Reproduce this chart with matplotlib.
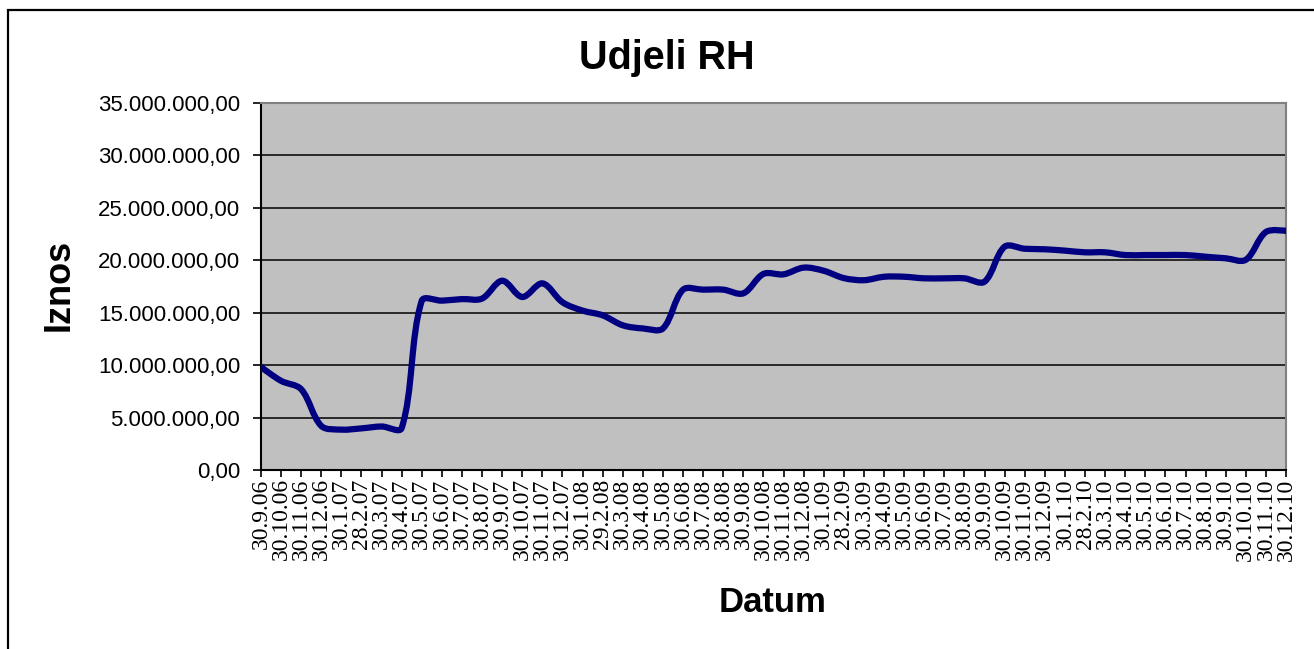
import numpy as np
import matplotlib
matplotlib.use("Agg")
import matplotlib.pyplot as plt
from matplotlib.path import Path
from matplotlib.patches import PathPatch, Rectangle
from matplotlib.ticker import FuncFormatter, MultipleLocator

datumi = ["30.9.06", "30.10.06", "30.11.06", "30.12.06", "30.1.07", "28.2.07", "30.3.07",
          "30.4.07", "30.5.07", "30.6.07", "30.7.07", "30.8.07", "30.9.07", "30.10.07",
          "30.11.07", "30.12.07", "30.1.08", "29.2.08", "30.3.08", "30.4.08", "30.5.08",
          "30.6.08", "30.7.08", "30.8.08", "30.9.08", "30.10.08", "30.11.08", "30.12.08",
          "30.1.09", "28.2.09", "30.3.09", "30.4.09", "30.5.09", "30.6.09", "30.7.09",
          "30.8.09", "30.9.09", "30.10.09", "30.11.09", "30.12.09", "30.1.10", "28.2.10",
          "30.3.10", "30.4.10", "30.5.10", "30.6.10", "30.7.10", "30.8.10", "30.9.10",
          "30.10.10", "30.11.10", "30.12.10"]

# iznos u milijunima
iznos_mil = [9.82, 8.5, 7.7, 4.2, 3.85, 3.97, 4.15, 4.0, 16.15, 16.15, 16.3, 16.35,
             18.05, 16.5, 17.8, 16.0, 15.2, 14.75, 13.8, 13.5, 13.5, 17.2, 17.2, 17.2,
             16.85, 18.7, 18.66, 19.3, 19.0, 18.3, 18.1, 18.43, 18.43, 18.28, 18.28,
             18.28, 17.96, 21.3, 21.1, 21.05, 20.92, 20.76, 20.76, 20.5, 20.5, 20.5, 20.5,
             20.34, 20.19, 20.05, 22.7, 22.8]

iznos = np.array(iznos_mil) * 1e6
x = np.arange(len(datumi))


def smooth_path(ax, xs, ys, t=1 / 3):
    # glatka linija kao u Excelu: Bezier, kontrolne tocke prema duljini segmenata
    pts = ax.transData.transform(np.column_stack([xs, ys]).astype(float))
    n = len(pts)
    before = pts.copy()
    after = pts.copy()
    for i in range(1, n - 1):
        d = pts[i + 1] - pts[i - 1]
        d1 = np.hypot(*(pts[i] - pts[i - 1]))
        d2 = np.hypot(*(pts[i + 1] - pts[i]))
        before[i] = pts[i] - d * t * d1 / (d1 + d2)
        after[i] = pts[i] + d * t * d2 / (d1 + d2)
    verts = [pts[0]]
    codes = [Path.MOVETO]
    for i in range(n - 1):
        verts += [after[i], before[i + 1], pts[i + 1]]
        codes += [Path.CURVE4] * 3
    verts = ax.transData.inverted().transform(np.array(verts))
    return Path(verts, codes)


fig = plt.figure(figsize=(13.14, 6.49), dpi=100)
ax = fig.add_axes([261 / 1314, 1 - 470 / 649, (1286 - 261) / 1314, (470 - 103) / 649])
ax.set_facecolor("#C0C0C0")

ax.set_xlim(0, len(datumi) - 1)
ax.set_ylim(0, 35e6)
ax.yaxis.set_major_locator(MultipleLocator(5e6))
ax.grid(axis="y", color="black", linewidth=1.1)
ax.set_axisbelow(True)

patch = PathPatch(smooth_path(ax, x, iznos), facecolor="none", edgecolor="#000080",
                  linewidth=4.5, capstyle="round", joinstyle="round", zorder=3)
ax.add_patch(patch)


def fmt(v, pos):
    s = "{:,.2f}".format(v)
    return s.replace(",", "X").replace(".", ",").replace("X", ".")


ax.yaxis.set_major_formatter(FuncFormatter(fmt))
ax.set_xticks(x)
ax.set_xticklabels(datumi, rotation=90, fontfamily="Liberation Serif", fontsize=17,
                   va="top", ha="center")
for lab in ax.get_yticklabels():
    lab.set_fontfamily("Liberation Sans")
    lab.set_fontsize(16)
ax.tick_params(axis="y", length=6, width=1.2, pad=9, colors="black")
ax.tick_params(axis="x", length=5, width=1.2, pad=1)

for s in ["left", "bottom"]:
    ax.spines[s].set_color("black")
    ax.spines[s].set_linewidth(1.5)
for s in ["top", "right"]:
    ax.spines[s].set_color("#808080")
    ax.spines[s].set_linewidth(1.5)

fig.text(667 / 1314, 1 - 58 / 649, "Udjeli RH", ha="center", va="center",
         fontfamily="Liberation Sans", fontweight="bold", fontsize=28.5)
fig.text(59 / 1314, 1 - 285 / 649, "Iznos", ha="center", va="center", rotation=90,
         fontfamily="Liberation Sans", fontweight="bold", fontsize=26)
fig.text(773 / 1314, 1 - 603 / 649, "Datum", ha="center", va="center",
         fontfamily="Liberation Sans", fontweight="bold", fontsize=25)

# okvir grafikona
fig.patches.append(Rectangle((8 / 1314, -0.1), 1.2, (649 - 10) / 649 + 0.1,
                             transform=fig.transFigure, fill=False,
                             edgecolor="black", linewidth=1.6))

fig.savefig("out.png", dpi=100)
